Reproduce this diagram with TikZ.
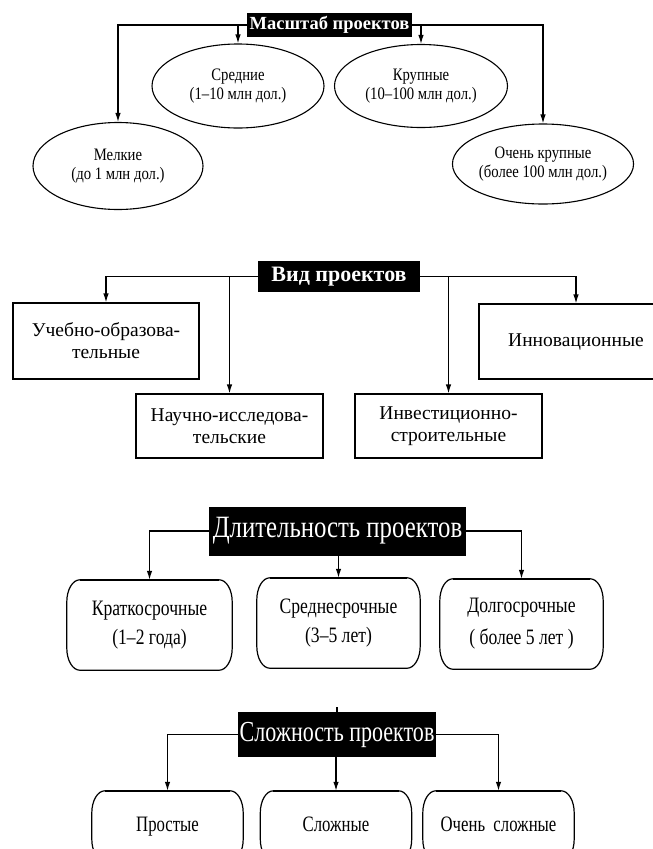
\documentclass[tikz,border=0pt]{standalone}
\usepackage{fontspec}
\setmainfont{Liberation Serif}
\newfontfamily\serifR{Liberation Serif}
\newfontfamily\condA[FakeStretch=0.84]{Liberation Serif}
\newfontfamily\condB[FakeStretch=0.8]{Liberation Serif}
\newfontfamily\condC[FakeStretch=0.76]{Liberation Serif}
\usetikzlibrary{shapes.geometric,arrows.meta}
\tikzset{
  hdr/.style={fill=black, text=white, inner sep=0pt, align=center},
  ell/.style={ellipse, draw, line width=1.1pt, inner sep=0pt, align=center,
    font=\condA\fontsize{17.5}{19}\selectfont},
  rbox/.style={rectangle, draw, line width=1.1pt, inner sep=0pt, align=center,
    font=\serifR\fontsize{19.5}{22}\selectfont},
  pill/.style={inner sep=0pt, align=center},
  conn/.style={line width=1.2pt, -{Latex[length=9pt,width=5.5pt]}},
  plainline/.style={line width=1.2pt},
  pillline/.style={line width=1.2pt, line join=round}
}
\newcommand\pillpath[1]{%
  \draw[pillline] ([xshift=13pt]#1.north west) -- ([xshift=-13pt]#1.north east)
    arc[start angle=90,end angle=0,x radius=13pt,y radius=22pt]
    -- ([yshift=22pt]#1.south east)
    arc[start angle=0,end angle=-90,x radius=13pt,y radius=22pt]
    -- ([xshift=13pt]#1.south west)
    arc[start angle=270,end angle=180,x radius=13pt,y radius=22pt]
    -- ([yshift=-22pt]#1.north west)
    arc[start angle=180,end angle=90,x radius=13pt,y radius=22pt] -- cycle;
  \draw[line width=2pt] ([xshift=13pt]#1.north west) -- ([xshift=-13pt]#1.north east);
}
\begin{document}
\begin{tikzpicture}[x=1pt,y=-1pt]
\clip (0,0) rectangle (653,849);
\fill[white] (0,0) rectangle (653,849);

% ---- Section 1
\node[hdr, minimum width=165pt, minimum height=24pt,
  font=\serifR\bfseries\fontsize{18.5}{20}\selectfont] (h1) at (329.5,25) {Масштаб проектов};
\node[ell, minimum width=170pt, minimum height=87pt] (e1) at (118,166) {Мелкие\\(до 1 млн дол.)};
\node[ell, minimum width=172pt, minimum height=84pt] (e2) at (238,86) {Средние\\(1–10 млн дол.)};
\node[ell, minimum width=173pt, minimum height=83pt] (e3) at (421,86) {Крупные\\(10–100 млн дол.)};
\node[ell, minimum width=170pt, minimum height=80pt] (e4) at (543,164) {Очень крупные\\(более 100 млн дол.)};
\draw[conn] (h1.west) -| (e1.north);
\draw[conn] (h1.west -| e2.north) -- (e2.north);
\draw[conn] (h1.east -| e3.north) -- (e3.north);
\draw[conn] (h1.east) -| (e4.north);

% ---- Section 2
\node[hdr, minimum width=162pt, minimum height=31pt,
  font=\serifR\bfseries\fontsize{22}{24}\selectfont] (h2) at (339,276.5) {Вид проектов};
\node[rbox, minimum width=186pt, minimum height=76pt] (b1) at (106,341) {Учебно-образова-\\тельные};
\node[rbox, minimum width=187pt, minimum height=64pt] (b2) at (229.5,426) {Научно-исследова-\\тельские};
\node[rbox, minimum width=187pt, minimum height=64pt] (b3) at (448.5,426) {Инвестиционно-\\строительные};
\node[rbox, minimum width=194pt, minimum height=75pt] (b4) at (576,341.5) {Инновационные};
\draw[conn] (h2.west) -| (b1.north);
\draw[conn] (h2.west -| b2.north) -- (b2.north);
\draw[conn] (h2.east -| b3.north) -- (b3.north);
\draw[conn] (h2.east) -| (b4.north);

% ---- Section 3
\node[hdr, minimum width=257pt, minimum height=49pt,
  font=\condB\fontsize{31}{33}\selectfont] (h3) at (337.5,531) {Длительность проектов};
\node[pill, minimum width=165pt, minimum height=90pt,
  font=\condB\fontsize{22}{29}\selectfont] (c1) at (149.5,625) {Краткосрочные\\(1–2 года)};
\node[pill, minimum width=163pt, minimum height=90pt,
  font=\condB\fontsize{22}{29}\selectfont] (c2) at (338.5,623) {Среднесрочные\\(3–5 лет)};
\node[pill, minimum width=163pt, minimum height=90pt,
  font=\condB\fontsize{22}{32}\selectfont] (c3) at (521.5,624) {Долгосрочные\\( более 5 лет )};
\pillpath{c1}
\pillpath{c2}
\pillpath{c3}
\draw[conn] (h3.west) -| (c1.north);
\draw[conn] (h3.south -| c2.north) -- (c2.north);
\draw[conn] (h3.east) -| (c3.north);

% ---- Section 4
\node[hdr, minimum width=198pt, minimum height=45pt,
  font=\condC\fontsize{29}{31}\selectfont] (h4) at (337,734.5) {Сложность проектов};
\tikzset{dtext/.style={pill, minimum width=151pt, minimum height=70pt,
  text height=15pt, text depth=5pt, font=\condC\fontsize{22}{24}\selectfont}}
\node[dtext] (d1) at (167.5,826) {Простые};
\node[dtext] (d2) at (336,826) {Сложные};
\node[dtext] (d3) at (498.5,826) {Очень\ \ сложные};
\pillpath{d1}
\pillpath{d2}
\pillpath{d3}
\draw[plainline] (h4.north) -- ++(0,-5);
\draw[conn] (h4.west) -| (d1.north);
\draw[conn] (h4.south -| d2.north) -- (d2.north);
\draw[conn] (h4.east) -| (d3.north);
\end{tikzpicture}
\end{document}
